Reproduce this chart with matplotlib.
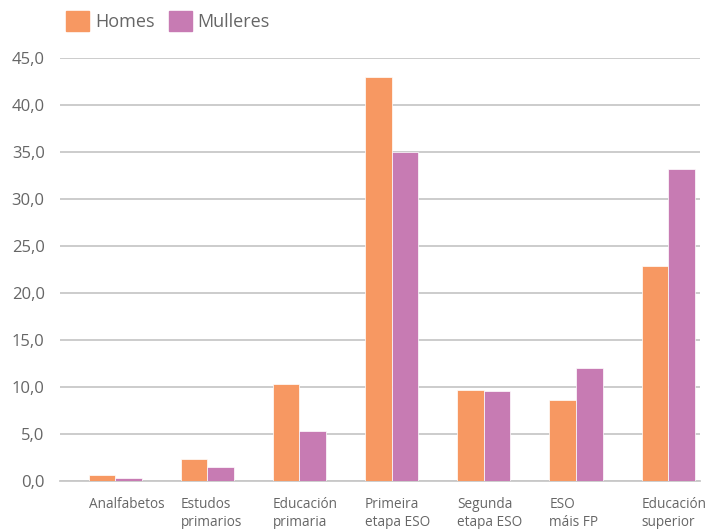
import numpy as np
from matplotlib import pyplot as plt
from matplotlib.patches import Patch

# data
categories = ["Analfabetos", "Estudos\nprimarios", "Educación\nprimaria", "Primeira\netapa ESO",
              "Segunda\netapa ESO", "ESO\nmáis FP", "Educación\nsuperior"]
homes = [0.7, 2.4, 10.3, 43.0, 9.7, 8.7, 22.9]
mulleres = [0.4, 1.5, 5.4, 35.0, 9.6, 12.1, 33.2]
yticks = [0, 5, 10, 15, 20, 25, 30, 35, 40, 45]

c_h = "#F79862"
c_m = "#C77BB3"
grey = "#666666"

plt.rcParams['font.family'] = ['Open Sans', 'DejaVu Sans']

fig = plt.figure(figsize=(7.09, 5.29), dpi=100, facecolor='white')
ax = fig.add_axes([60/709, 1 - 481.3/529, 640/709, 423/529])

x = np.arange(len(categories))
w = 0.2875
ax.bar(x - w/2, homes, w, color=c_h, edgecolor='white', linewidth=0.5, zorder=3)
ax.bar(x + w/2, mulleres, w, color=c_m, edgecolor='white', linewidth=0.5, zorder=3)

ax.set_ylim(0, 45)
ax.set_xlim(-0.597, 6.345)
ax.set_yticks(yticks)
ax.set_yticklabels([f"{v:.1f}".replace(".", ",") for v in yticks], fontsize=12, color=grey)
ax.yaxis.grid(True, color="#c8c8c8", linewidth=1.3, zorder=0)
ax.tick_params(axis='y', length=0, pad=11)

ax.set_xticks(x - w)
ax.set_xticklabels(categories, fontsize=9.8, color=grey, ha='left', linespacing=1.35)
ax.tick_params(axis='x', length=0, pad=11)

for s in ['top', 'right', 'left']:
    ax.spines[s].set_visible(False)
ax.spines['bottom'].set_color("#c8c8c8")
ax.spines['bottom'].set_linewidth(1.3)

handles = [Patch(color=c_h, label="Homes"), Patch(color=c_m, label="Mulleres")]
fig.legend(handles=handles, loc='upper left', bbox_to_anchor=(66/709, 1 - 11/529), ncol=2,
           frameon=False, fontsize=13, labelcolor=grey, handlelength=1.3, handleheight=1.3,
           handletextpad=0.3, columnspacing=0.8, borderpad=0, borderaxespad=0)

fig.savefig("out.png", dpi=100, facecolor='white')
